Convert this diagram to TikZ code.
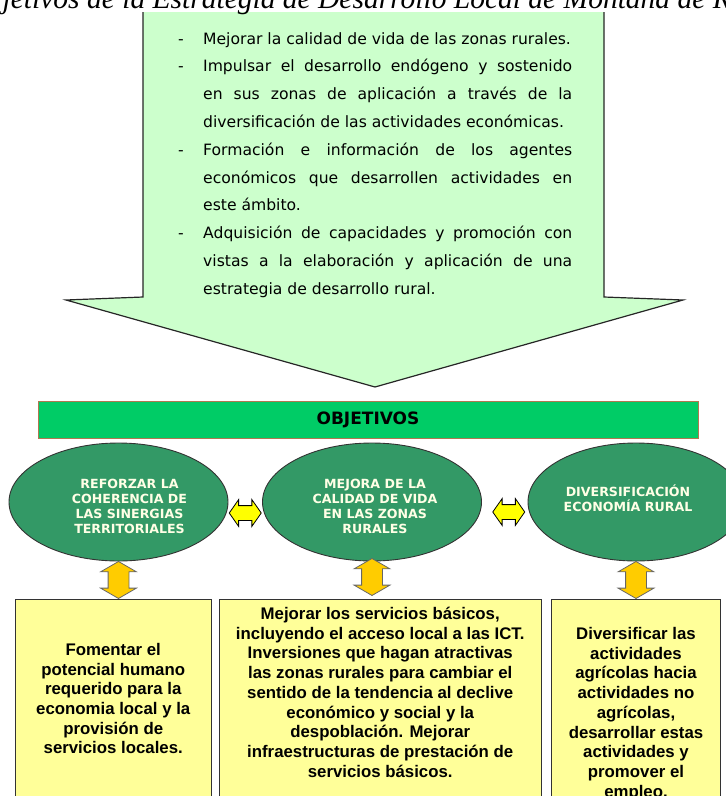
\documentclass[tikz,border=0pt]{standalone}
\usepackage{fontspec}
\usepackage{tikz}
\usetikzlibrary{shapes.geometric, shapes.arrows, calc}
\newfontfamily\listfont{DejaVu Sans}
\newfontfamily\boxfont{Liberation Sans}
\newfontfamily\capfont{Liberation Serif}
\definecolor{arrowgreen}{HTML}{CCFFCC}
\definecolor{objgreen}{HTML}{00CC66}
\definecolor{objbrown}{HTML}{B07850}
\definecolor{ellgreen}{HTML}{339966}
\definecolor{ellwhite}{HTML}{FFFFE6}
\definecolor{hyellow}{HTML}{FFFF00}
\definecolor{vorange}{HTML}{FFCC00}
\definecolor{boxyellow}{HTML}{FFFF99}
\newcommand{\itm}{\hangindent=27pt\hangafter=1\noindent\makebox[27pt][l]{\hspace{2pt}-}}
\tikzstyle{arrowline} = [draw=black!85, line width=1.2pt, line join=miter]
\tikzstyle{list} = [anchor=north west, text width=396pt, align=justify, inner sep=0pt,
    font=\listfont\fontsize{15.6}{27.8}\selectfont]
\tikzstyle{objbar} = [draw=objbrown, fill=objgreen, rectangle, line width=1pt,
    minimum width=660pt, minimum height=37pt, font=\listfont\bfseries\fontsize{17}{17}\selectfont]
\tikzstyle{ell} = [draw=black!80, fill=ellgreen, ellipse, line width=0.9pt,
    minimum width=219pt, minimum height=118pt]
\tikzstyle{elltxt} = [align=center, text=ellwhite, inner sep=0pt,
    font=\listfont\bfseries\fontsize{12.6}{15}\selectfont]
\tikzstyle{harrow} = [draw=black, fill=hyellow, double arrow, line width=0.8pt, inner xsep=0pt, inner ysep=7pt,
    minimum height=32pt, minimum width=26pt, double arrow head extend=6pt, double arrow tip angle=110]
\tikzstyle{varrow} = [draw=black!60, fill=vorange, double arrow, line width=0.8pt, inner xsep=0pt, inner ysep=10pt, rotate=90,
    minimum height=37pt, minimum width=35pt, double arrow head extend=7.5pt, double arrow tip angle=120]
\tikzstyle{block} = [draw=black!80, fill=boxyellow, rectangle, line width=1pt,
    minimum height=230pt, anchor=north]
\tikzstyle{blocktxt} = [align=center, anchor=north, inner sep=0pt,
    font=\boxfont\bfseries\fontsize{16.8}{19.7}\selectfont]

\begin{document}
\begin{tikzpicture}[x=1pt, y=-1pt]
        \useasboundingbox (0,0) rectangle (726,796);
        \clip (0,0) rectangle (726,796);

        % big arrow with the list
        \fill [arrowgreen] (143,12) -- (143,297) -- (66,300) -- (375,387) -- (683,300) -- (604,297) -- (604,12) -- cycle;
        \draw [arrowline] (143,12) -- (143,297) -- (66,300) -- (375,387) -- (683,300) -- (604,297) -- (604,12);
        \node [anchor=base east, inner sep=0pt, font=\capfont\itshape\fontsize{29.5}{30}\selectfont] (ttl) at (731,8)
            {jetivos de la Estrategia de Desarrollo Local de Montaña de R};
        \node [list] (lst) at (176,32) {%
            \itm Mejorar la calidad de vida de las zonas rurales.\par
            \itm Impulsar el desarrollo endógeno y sostenido\linebreak en sus zonas de aplicación a través de la\linebreak diversificación de las actividades económicas.\par
            \itm Formación e información de los agentes\linebreak económicos que desarrollen actividades en\linebreak este ámbito.\par
            \itm Adquisición de capacidades y promoción con\linebreak vistas a la elaboración y aplicación de una\linebreak estrategia de desarrollo rural.\par};

        \node [objbar] (obj) at (368,419.5) {OBJETIVOS};

        \node [ell] (e1) at (118.5,502) {};
        \node [ell] (e2) at (372,502) {};
        \node [ell, minimum width=216pt] (e3) at (636,502) {};
        \node [elltxt] (l1) at ($(e1)+(11,4.5)$) {REFORZAR LA\\COHERENCIA DE\\LAS SINERGIAS\\TERRITORIALES};
        \node [elltxt] (l2) at ($(e2)+(3,4.5)$) {MEJORA DE LA\\CALIDAD DE VIDA\\EN LAS ZONAS\\RURALES};
        \node [elltxt] (l3) at ($(e3)+(-8,-4)$) {DIVERSIFICACIÓN\\ECONOMÍA RURAL};

        \node [block, minimum width=195.5pt] (b1) at (113.25,598.5) {};
        \node [block, minimum width=322pt] (b2) at (380.25,598.5) {};
        \node [block, minimum width=169pt] (b3) at (636,598.5) {};
        \node [blocktxt] (t1) at ($(b1.north)+(0,44.5)$) {Fomentar el\\potencial humano\\requerido para la\\economia local y la\\provisión de\\servicios locales.};
        \node [blocktxt] (t2) at ($(b2.north)+(0,8.5)$) {Mejorar los servicios básicos,\\incluyendo el acceso local a las ICT.\\Inversiones que hagan atractivas\\las zonas rurales para cambiar el\\sentido de la tendencia al declive\\económico y social y la\\despoblación. Mejorar\\infraestructuras de prestación de\\servicios básicos.};
        \node [blocktxt] (t3) at ($(b3.north)+(0,28.7)$) {Diversificar las\\actividades\\agrícolas hacia\\actividades no\\agrícolas,\\desarrollar estas\\actividades y\\promover el\\empleo.};

        \path (e1) -- (e2) node [midway, harrow, yshift=-11pt] (h1) {};
        \path (e2) -- (e3) node [midway, harrow, yshift=-10pt, xshift=4pt] (h2) {};
        \path (e1.south) -- (e1.south |- b1.north) node [midway, varrow] (v1) {};
        \path (e2.south) -- (e2.south |- b2.north) node [midway, varrow, xshift=3pt] (v2) {};
        \path (e3.south) -- (e3.south |- b3.north) node [midway, varrow] (v3) {};
    \end{tikzpicture}
\end{document}
